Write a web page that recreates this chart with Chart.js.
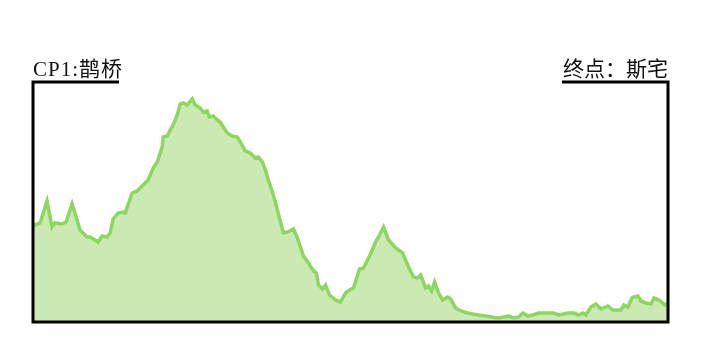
<!DOCTYPE html>
<html>
<head>
<meta charset="utf-8">
<script src="https://cdn.jsdelivr.net/npm/chart.js@4"></script>
<style>
  html, body { margin: 0; padding: 0; background: #fff; }
  #wrap { width: 702px; height: 351px; }
</style>
</head>
<body>
<div id="wrap"><canvas id="profile"></canvas></div>
<script>
// route profile: distance (km) and elevation (m)
const distance = [0, 0.2, 0.7, 1.4, 1.9, 2.2, 2.9, 3.3, 3.9, 4.4, 4.7, 5.0, 5.4, 5.7, 6.5, 6.9, 7.4, 7.7, 8.0, 8.5,
  9.0, 9.2, 9.9, 10.4, 11.0, 11.5, 12.0, 12.4, 12.9, 13.0, 13.4, 13.7, 14.0, 14.4, 14.7, 15.0, 15.4, 15.9, 16.2, 16.7,
  17.0, 17.4, 17.6, 18.0, 18.4, 18.7, 19.0, 19.4, 19.9, 20.4, 20.7, 21.2, 21.7, 22.2, 22.5, 22.9, 23.2, 23.5, 23.9, 24.2,
  24.5, 25.0, 25.4, 26.0, 26.4, 27.0, 27.5, 28.0, 28.3, 28.5, 28.9, 29.2, 29.6, 30.2, 30.7, 31.2, 31.6, 32.0, 32.6, 33.0,
  33.7, 34.2, 34.5, 35.0, 35.5, 36.2, 36.9, 37.2, 37.5, 38.0, 38.4, 38.7, 39.2, 39.5, 39.8, 40.1, 40.5, 40.9, 41.4, 41.7,
  42.2, 42.7, 43.4, 43.9, 44.5, 45.2, 46.4, 47.0, 47.5, 48.0, 48.5, 48.9, 49.4, 49.9, 50.5, 51.4, 52.0, 52.5, 53.4, 54.0,
  54.5, 54.9, 55.2, 55.7, 56.2, 56.7, 57.4, 57.9, 58.7, 59.0, 59.4, 59.8, 60.0, 60.4, 60.7, 61.2, 61.7, 62.0, 62.5, 63.1, 63.4];
const elevation = [480, 485, 495, 605, 475, 495, 490, 500, 590, 510, 460, 445, 425, 425, 400, 430, 425, 445, 515, 545,
  550, 545, 645, 655, 685, 710, 770, 800, 875, 925, 930, 960, 985, 1035, 1090, 1095, 1085, 1115, 1085, 1070,
  1050, 1055, 1025, 1030, 1010, 1000, 975, 945, 930, 925, 900, 855, 845, 820, 825, 800, 760, 710, 650, 600,
  540, 445, 450, 465, 420, 330, 295, 255, 245, 185, 165, 185, 135, 110, 100, 145, 160, 170, 265, 270,
  340, 400, 425, 475, 410, 370, 345, 310, 275, 225, 220, 235, 170, 180, 155, 200, 145, 110, 125, 115,
  70, 55, 45, 40, 35, 30, 20, 25, 30, 20, 25, 45, 30, 35, 45, 45, 45, 35, 45, 45,
  35, 45, 35, 75, 90, 65, 80, 60, 60, 85, 75, 120, 125, 130, 105, 95, 90, 120, 110, 85, 95];
const startLabel = 'CP1:鹊桥';
const endLabel = '终点：斯宅';

const frame = {
  id: 'frame',
  afterDraw(chart) {
    const ctx = chart.ctx;
    const a = chart.chartArea;
    ctx.save();
    ctx.strokeStyle = '#000';
    ctx.lineWidth = 3;
    ctx.beginPath();
    ctx.moveTo(119, a.top);
    ctx.lineTo(a.left, a.top);
    ctx.lineTo(a.left, a.bottom);
    ctx.lineTo(a.right, a.bottom);
    ctx.lineTo(a.right, a.top);
    ctx.lineTo(562, a.top);
    ctx.stroke();
    ctx.fillStyle = '#111';
    ctx.font = '21px "Liberation Serif", "Noto Sans CJK SC", serif';
    ctx.textBaseline = 'alphabetic';
    ctx.textAlign = 'left';
    ctx.letterSpacing = '1px';
    ctx.fillText(startLabel, a.left, a.top - 6);
    ctx.textAlign = 'right';
    ctx.letterSpacing = '0px';
    ctx.fillText(endLabel, a.right, a.top - 6);
    ctx.restore();
  }
};

new Chart(document.getElementById('profile'), {
  type: 'line',
  data: {
    datasets: [{
      data: distance.map((d, i) => ({ x: d, y: elevation[i] })),
      borderColor: '#8cd661',
      backgroundColor: '#cbe9b2',
      borderWidth: 3.5,
      fill: 'origin',
      pointRadius: 0,
      tension: 0
    }]
  },
  options: {
    responsive: true,
    maintainAspectRatio: false,
    animation: false,
    layout: { padding: { left: 33, right: 34, top: 82, bottom: 29 } },
    plugins: { legend: { display: false }, tooltip: { enabled: false } },
    scales: {
      x: { type: 'linear', min: 0, max: 63.4, display: false },
      y: { min: 0, max: 1200, display: false }
    }
  },
  plugins: [frame]
});
</script>
</body>
</html>
